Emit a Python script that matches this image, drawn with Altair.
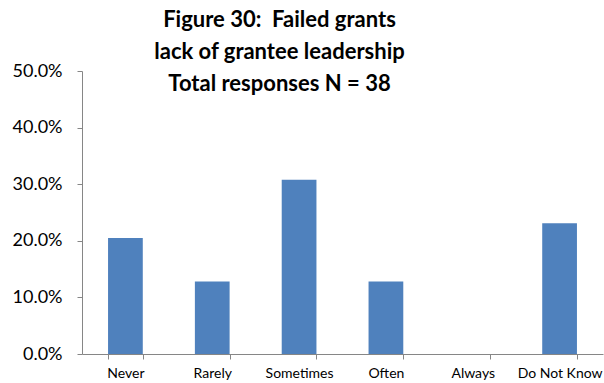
import altair as alt
import pandas as pd

# Survey responses: share of respondents per frequency category
categories = ["Never", "Rarely", "Sometimes", "Often", "Always", "Do Not Know"]
shares = [0.205, 0.128, 0.308, 0.128, 0.0, 0.231]
y_ticks = [0.0, 0.1, 0.2, 0.3, 0.4, 0.5]

title_lines = [
    "Figure 30:\u00a0 Failed grants",
    "lack of grantee leadership",
    "Total responses N = 38",
]

df = pd.DataFrame({"category": categories, "share": shares})

AXIS_GREY = "#868686"
FONT = "Lato"

chart = (
    alt.Chart(df)
    .mark_bar(color="#4F81BD")
    .encode(
        x=alt.X(
            "category:N",
            sort=categories,
            title=None,
            scale=alt.Scale(paddingInner=0.6, paddingOuter=0.3),
            axis=alt.Axis(
                labelAngle=0,
                labelFont=FONT,
                labelFontSize=14,
                labelColor="#000000",
                labelPadding=7,
                domainColor=AXIS_GREY,
                tickColor=AXIS_GREY,
                tickSize=5,
                tickBand="extent",
            ),
        ),
        y=alt.Y(
            "share:Q",
            title=None,
            scale=alt.Scale(domain=[0, 0.5], nice=False),
            axis=alt.Axis(
                values=y_ticks,
                format=".1%",
                grid=False,
                labelFont=FONT,
                labelFontSize=18,
                labelColor="#000000",
                labelPadding=15,
                domainColor=AXIS_GREY,
                tickColor=AXIS_GREY,
                tickSize=5,
            ),
        ),
    )
    .properties(
        width=521,
        height=283,
        title=alt.TitleParams(
            text=title_lines,
            font=FONT,
            fontSize=22,
            fontWeight="bold",
            color="#000000",
            anchor="middle",
            frame="group",
            lineHeight=32,
            dx=-63,
            offset=-34,
        ),
        padding={"left": 82, "top": 71, "right": 1, "bottom": 29},
        autosize=alt.AutoSizeParams(type="none"),
    )
    .configure_view(stroke=None)
    .configure_axis(domainWidth=1, tickWidth=1)
)

chart.save("out.html", embed_options={"renderer": "svg", "actions": False})
